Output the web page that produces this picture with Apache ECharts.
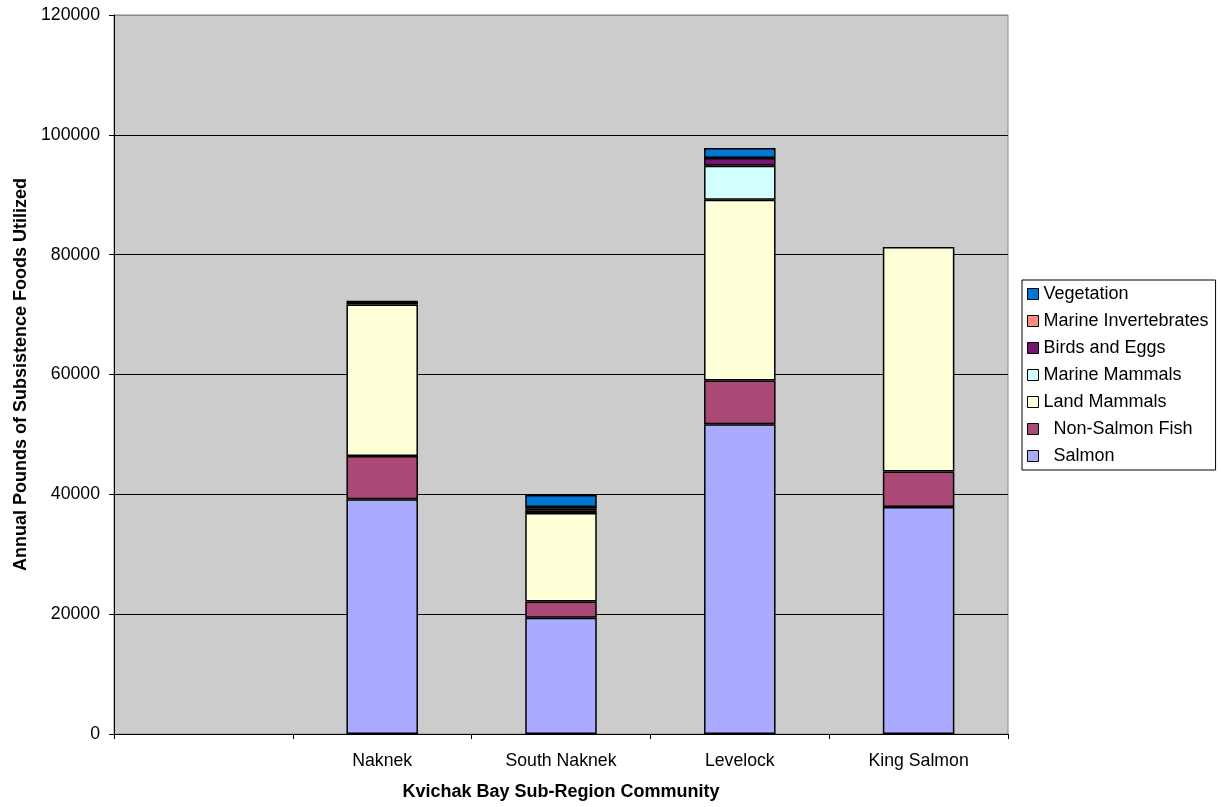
<!DOCTYPE html>
<html>
<head>
<meta charset="utf-8">
<script src="https://cdn.jsdelivr.net/npm/echarts@6/dist/echarts.min.js"></script>
<style>html,body{margin:0;padding:0;background:#fff;}#c{width:1221px;height:807px;}</style>
</head>
<body>
<div id="c"></div>
<script>
const categories = ['', 'Naknek', 'South Naknek', 'Levelock', 'King Salmon'];
const salmon = [null, 39200, 19400, 51700, 37900];
const nonSalmonFish = [null, 7200, 2700, 7300, 5900];
const landMammals = [null, 25300, 14800, 30150, 37500];
const marineMammals = [null, 300, 350, 5700, null];
const birdsAndEggs = [null, 150, 350, 1300, null];
const marineInvertebrates = [null, 50, 300, null, null];
const vegetation = [null, null, 2000, 1650, null];
const yTicks = [0, 20000, 40000, 60000, 80000, 100000, 120000];

const FONT = 'Arial, "Liberation Sans", sans-serif';
const seriesDefs = [
  {name: '  Salmon', data: salmon, color: '#aaaaff'},
  {name: '  Non-Salmon Fish', data: nonSalmonFish, color: '#aa4876'},
  {name: 'Land Mammals', data: landMammals, color: '#ffffd8'},
  {name: 'Marine Mammals', data: marineMammals, color: '#d4ffff'},
  {name: 'Birds and Eggs', data: birdsAndEggs, color: '#751770'},
  {name: 'Marine Invertebrates', data: marineInvertebrates, color: '#ff8c80'},
  {name: 'Vegetation', data: vegetation, color: '#0077d2'}
];

const chart = echarts.init(document.getElementById('c'));
chart.setOption({
  animation: false,
  backgroundColor: '#ffffff',
  textStyle: {fontFamily: FONT},
  grid: {left: 114, right: 213, top: 15, bottom: 73, show: true, backgroundColor: '#cccccc', borderColor: '#888888', borderWidth: 1},
  legend: {
    orient: 'vertical', left: 1022, top: 280,
    data: seriesDefs.map(s => s.name).reverse(),
    itemWidth: 11, itemHeight: 11, itemGap: 9,
    padding: [5, 7, 5, 5],
    borderColor: '#000', borderWidth: 1,
    icon: 'rect',
    textStyle: {fontSize: 18, color: '#000', fontFamily: FONT},
    itemStyle: {borderColor: '#000', borderWidth: 1}
  },
  xAxis: {
    type: 'category', data: categories,
    name: 'Kvichak Bay Sub-Region Community', nameLocation: 'middle', nameGap: 49,
    nameTextStyle: {fontWeight: 'bold', fontSize: 18, color: '#000', fontFamily: FONT},
    axisLine: {lineStyle: {color: '#000', width: 1}},
    axisTick: {show: true, length: 5, lineStyle: {color: '#000'}},
    axisLabel: {fontSize: 17.7, color: '#000', margin: 18, fontFamily: FONT}
  },
  yAxis: {
    type: 'value', min: yTicks[0], max: yTicks[yTicks.length - 1], interval: yTicks[1] - yTicks[0],
    name: 'Annual Pounds of Subsistence Foods Utilized', nameLocation: 'middle', nameGap: 84,
    nameTextStyle: {fontWeight: 'bold', fontSize: 18, color: '#000', fontFamily: FONT},
    axisLine: {show: true, lineStyle: {color: '#000', width: 1}},
    axisTick: {show: true, length: 5, lineStyle: {color: '#000'}},
    axisLabel: {fontSize: 17.7, color: '#000', margin: 14, fontFamily: FONT, formatter: v => String(v)},
    splitLine: {show: true, lineStyle: {color: ['#000', '#000', '#000', '#000', '#000', '#000', '#888888'], width: 1}}
  },
  series: seriesDefs.map(s => ({
    name: s.name, type: 'bar', stack: 'total', data: s.data,
    barWidth: '40%',
    itemStyle: {color: s.color, borderColor: '#000', borderWidth: 1.5}
  }))
});
</script>
</body>
</html>
